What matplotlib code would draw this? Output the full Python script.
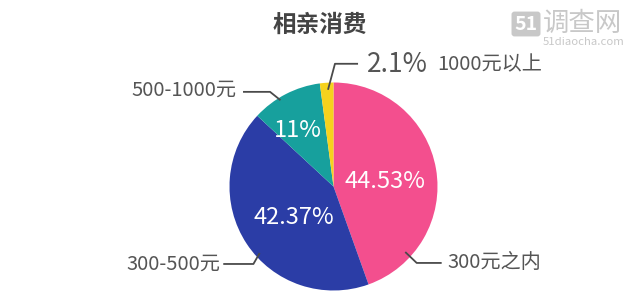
import numpy as np
import matplotlib
matplotlib.use('Agg')
import matplotlib.pyplot as plt

plt.rcParams['font.family'] = ['Noto Sans CJK SC', 'DejaVu Sans']

# data
categories = ['300元之内', '300-500元', '500-1000元', '1000元以上']
values = [44.53, 42.37, 11.0, 2.1]
pct_labels = ['44.53%', '42.37%', '11%', '2.1%']
colors = ['#F34F8E', '#2B3DA6', '#17A09D', '#F6D21D']

W, H = 640, 297
fig = plt.figure(figsize=(W / 100, H / 100), dpi=100)
fig.patch.set_facecolor('white')

# pie placed by pixel centre / radius
cx, cy, r = 333.5, 186.5, 104
ax = fig.add_axes([(cx - r) / W, (H - cy - r) / H, 2 * r / W, 2 * r / H])
wedges, _ = ax.pie(values, colors=colors, startangle=90, counterclock=False,
                   radius=1, wedgeprops=dict(linewidth=0))
ax.set_xlim(-1, 1)
ax.set_ylim(-1, 1)
ax.set_aspect('equal')
ax.axis('off')

# percentage labels inside the slices (first three): angle, distance
inner_pos = [(6, 0.5), (-142, 0.49), (122, 0.64)]
for lab, (ang, d) in zip(pct_labels[:3], inner_pos):
    a = np.deg2rad(ang)
    ax.text(d * np.cos(a), d * np.sin(a), lab, color='white', fontsize=17,
            ha='center', va='center')

line_kw = dict(color='#4a4a4a', lw=1.3, solid_capstyle='butt')
txt_color = '#555555'

# leader lines: (anchor, elbow, end)
leaders = {
    '300元之内': [(0.69, -0.63), (0.80, -0.735), (1.04, -0.735)],
    '300-500元': [(-0.71, -0.64), (-0.77, -0.745), (-1.06, -0.745)],
    '500-1000元': [(-0.51, 0.83), (-0.61, 0.91), (-0.87, 0.91)],
    '1000元以上': [(-0.053, 0.93), (0.014, 1.18), (0.236, 1.18)],
}
for cat, pts in leaders.items():
    xs, ys = zip(*pts)
    ax.plot(xs, ys, clip_on=False, **line_kw)

ax.text(1.10, -0.735, categories[0], fontsize=14.5, color=txt_color,
        ha='left', va='center')
ax.text(-1.09, -0.745, categories[1], fontsize=14.5, color=txt_color,
        ha='right', va='center')
ax.text(-0.93, 0.93, categories[2], fontsize=14.5, color=txt_color,
        ha='right', va='center')
ax.text(0.32, 1.17, pct_labels[3], fontsize=19, color=txt_color,
        ha='left', va='center')
ax.text(0.995, 1.17, categories[3], fontsize=14.5, color=txt_color,
        ha='left', va='center')

# title
fig.text(320 / W, 1 - 25 / H, '相亲消费', fontsize=17, fontweight='bold',
         color='#444444', ha='center', va='center')

# watermark
fig.text(526 / W, 1 - 24 / H, '51', fontsize=14, fontweight='bold', color='white',
         ha='center', va='center',
         bbox=dict(boxstyle='round,pad=0.15', fc='#c8c8c8', ec='none'))
fig.text(543 / W, 1 - 23 / H, '调查网', fontsize=19, color='#c8c8c8',
         ha='left', va='center')
fig.text(543 / W, 1 - 42 / H, '51diaocha.com', fontsize=8.2, color='#c8c8c8',
         ha='left', va='center')

fig.savefig('out.png', dpi=100, facecolor='white')
